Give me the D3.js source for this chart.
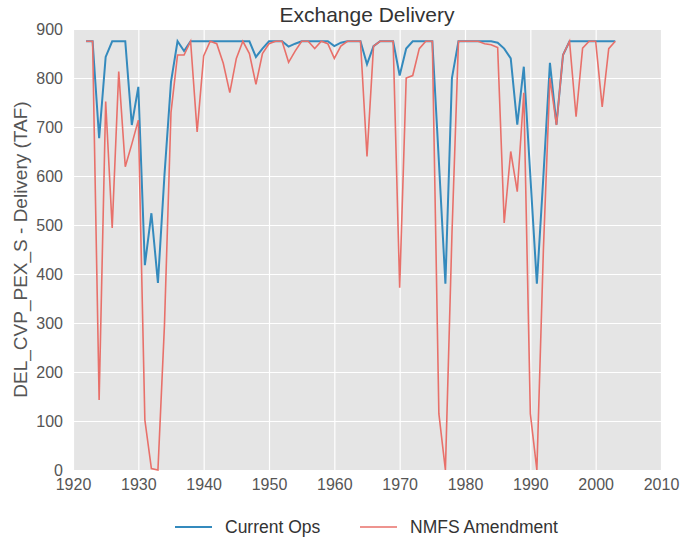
<!DOCTYPE html>
<html>
<head>
<meta charset="utf-8">
<script src="https://cdn.jsdelivr.net/npm/d3@7"></script>
<style>
    body { margin: 0; background: #fff; }
    svg text { font-family: "Liberation Sans", Arial, sans-serif; }
</style>
</head>
<body>
<div id="chart"></div>
<script>
const years = d3.range(1922, 2004);
const currentOps = [
    875, 875, 677, 843, 875, 875, 875, 704, 782, 418,
    524, 382, 602, 792, 875, 855, 875, 875, 875, 875,
    875, 875, 875, 875, 875, 875, 843, 860, 875, 875,
    875, 864, 870, 875, 875, 875, 875, 875, 865, 872,
    875, 875, 875, 828, 865, 875, 875, 875, 805, 860,
    875, 875, 875, 875, 630, 380, 800, 875, 875, 875,
    875, 875, 875, 872, 860, 840, 705, 823, 600, 380,
    600, 831, 705, 847, 875, 875, 875, 875, 875, 875,
    875, 875
];
const nmfsAmendment = [
    875, 875, 143, 752, 494, 813, 619, 665, 714, 102,
    3, 0, 296, 730, 847, 847, 875, 690, 845, 875,
    870, 830, 770, 840, 875, 850, 787, 850, 870, 875,
    875, 832, 855, 875, 875, 860, 875, 870, 840, 865,
    875, 875, 875, 640, 865, 875, 875, 875, 372, 800,
    805, 860, 875, 875, 115, 0, 480, 875, 875, 875,
    875, 870, 868, 862, 504, 650, 568, 770, 115, 0,
    450, 800, 704, 847, 875, 721, 861, 875, 875, 741,
    860, 875
];
const xTicks = d3.range(1920, 2011, 10);
const yTicks = d3.range(0, 901, 100);
const seriesNames = ["Current Ops", "NMFS Amendment"];
const colors = ["#348ABD", "#E8706A"];

const width = 683, height = 546;
const margin = {top: 29, right: 22, bottom: 76, left: 73};
const plotW = width - margin.left - margin.right;
const plotH = height - margin.top - margin.bottom;

let svg = d3.select("#chart")
    .append("svg")
    .attr("width", width)
    .attr("height", height);

let x = d3.scaleLinear().domain([1920, 2010]).range([0, plotW]);
let y = d3.scaleLinear().domain([0, 900]).range([plotH, 0]);

let g = svg.append("g")
    .attr("transform", "translate(" + margin.left + "," + margin.top + ")");

g.append("rect")
    .attr("width", plotW)
    .attr("height", plotH)
    .attr("fill", "#E5E5E5");

// grid lines + tick labels
g.append("g")
    .attr("transform", "translate(0," + plotH + ")")
    .call(d3.axisBottom(x).tickValues(xTicks).tickSize(-plotH).tickFormat(d3.format("d")).tickPadding(9))
    .call(a => a.select(".domain").remove())
    .call(a => a.selectAll("line").attr("stroke", "#fff").attr("stroke-width", 1.2))
    .call(a => a.selectAll("text").attr("fill", "#555").style("font-size", "16px"));

g.append("g")
    .call(d3.axisLeft(y).tickValues(yTicks).tickSize(-plotW).tickPadding(10))
    .call(a => a.select(".domain").remove())
    .call(a => a.selectAll("line").attr("stroke", "#fff").attr("stroke-width", 1.2))
    .call(a => a.selectAll("text").attr("fill", "#555").style("font-size", "16px"));

let line = d3.line()
    .x((d, i) => x(years[i]))
    .y(d => y(d));

g.append("path")
    .datum(currentOps)
    .attr("fill", "none")
    .attr("stroke", colors[0])
    .attr("stroke-width", 2)
    .attr("d", line);

g.append("path")
    .datum(nmfsAmendment)
    .attr("fill", "none")
    .attr("stroke", colors[1])
    .attr("stroke-width", 1.6)
    .attr("d", line);

svg.append("text")
    .attr("x", margin.left + plotW / 2)
    .attr("y", 22)
    .attr("text-anchor", "middle")
    .attr("fill", "#333")
    .style("font-size", "21px")
    .text("Exchange Delivery");

svg.append("text")
    .attr("transform", "translate(27," + (margin.top + plotH / 2) + ") rotate(-90)")
    .attr("text-anchor", "middle")
    .attr("fill", "#555")
    .style("font-size", "19px")
    .text("DEL_CVP_PEX_S - Delivery (TAF)");

// legend
let legend = svg.append("g").attr("transform", "translate(175,527)");
let offsets = [0, 185];
seriesNames.forEach(function (name, i) {
    legend.append("line")
        .attr("x1", offsets[i]).attr("x2", offsets[i] + 37)
        .attr("y1", 0).attr("y2", 0)
        .attr("stroke", colors[i])
        .attr("stroke-width", i === 0 ? 2 : 1.6);
    legend.append("text")
        .attr("x", offsets[i] + 50)
        .attr("y", 0)
        .attr("dy", "0.35em")
        .attr("fill", "#333")
        .style("font-size", "17.5px")
        .text(name);
});
</script>
</body>
</html>
